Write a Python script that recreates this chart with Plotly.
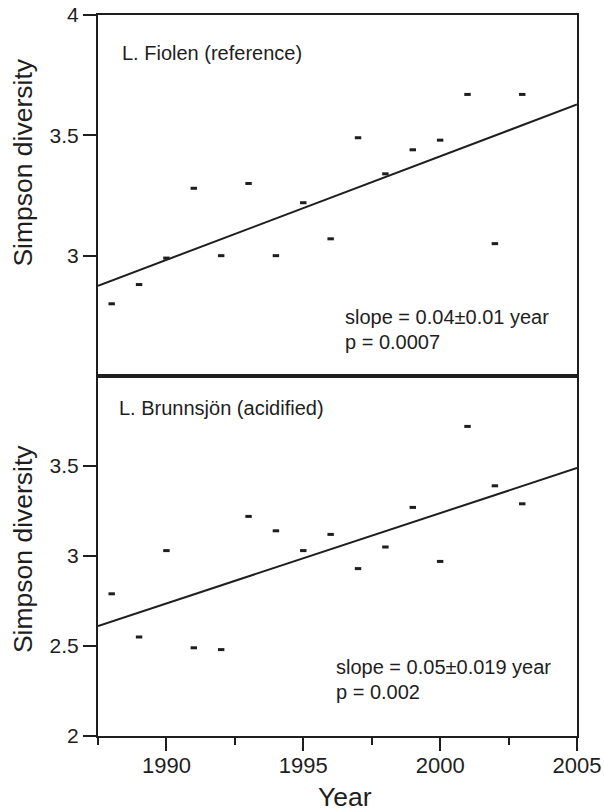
import plotly.graph_objects as go

years = [1988, 1989, 1990, 1991, 1992, 1993, 1994, 1995, 1996, 1997, 1998, 1999, 2000, 2001, 2002, 2003]
fiolen = [2.80, 2.88, 2.99, 3.28, 3.00, 3.30, 3.00, 3.22, 3.07, 3.49, 3.34, 3.44, 3.48, 3.67, 3.05, 3.67]
brunnsjon = [2.79, 2.55, 3.03, 2.49, 2.48, 3.22, 3.14, 3.03, 3.12, 2.93, 3.05, 3.27, 2.97, 3.72, 3.39, 3.29]

fit_x = [1987.5, 2005]
fit_fiolen = [2.875, 3.628]
fit_brunnsjon = [2.611, 3.489]

x_range = [1987.5, 2005]
x_ticks = [1990, 1995, 2000, 2005]
top_range = [2.5, 4]
top_ticks = [3, 3.5, 4]
top_ticktext = ["3", "3.5", "4"]
bot_range = [2, 4]
bot_ticks = [2, 2.5, 3, 3.5]
bot_ticktext = ["2", "2.5", "3", "3.5"]

INK = "#1e1e1e"
FONT = "Arial, Liberation Sans, sans-serif"

fig = go.Figure()

marker = dict(symbol="line-ew", size=4.6, color=INK, line=dict(width=3, color=INK))

fig.add_trace(go.Scatter(x=years, y=fiolen, mode="markers", marker=marker, xaxis="x2", yaxis="y2", showlegend=False))
fig.add_trace(go.Scatter(x=fit_x, y=fit_fiolen, mode="lines", line=dict(color=INK, width=2), xaxis="x2", yaxis="y2", showlegend=False))
fig.add_trace(go.Scatter(x=years, y=brunnsjon, mode="markers", marker=marker, xaxis="x", yaxis="y", showlegend=False))
fig.add_trace(go.Scatter(x=fit_x, y=fit_brunnsjon, mode="lines", line=dict(color=INK, width=2), xaxis="x", yaxis="y", showlegend=False))

axis_common = dict(showline=True, linecolor=INK, linewidth=2, showgrid=False, zeroline=False, automargin=False,
                   ticklabeloverflow="allow", tickcolor=INK, tickwidth=2)
yfont = dict(family=FONT, size=21, color=INK)
xfont = dict(family=FONT, size=22, color=INK)

fig.update_layout(
    width=604, height=811,
    margin=dict(l=98, r=27, t=15, b=75, autoexpand=False),
    paper_bgcolor="white", plot_bgcolor="white",
    xaxis=dict(domain=[0, 1], anchor="y", range=x_range, tickvals=x_ticks, ticks="outside", ticklen=13,
               mirror=True, tickfont=xfont, ticklabelstandoff=-4,
               minor=dict(dtick=2.5, tick0=1987.5, ticks="outside", ticklen=7, tickcolor=INK, tickwidth=2),
               **axis_common),
    yaxis=dict(domain=[0, 0.4993], anchor="x", range=bot_range, tickvals=bot_ticks, ticktext=bot_ticktext,
               ticks="outside", ticklen=13, mirror=True, tickfont=yfont, **axis_common),
    xaxis2=dict(domain=[0, 1], anchor="y2", range=x_range, showticklabels=False, ticks="",
                mirror=True, **axis_common),
    yaxis2=dict(domain=[0.4993, 1], anchor="x2", range=top_range, tickvals=top_ticks, ticktext=top_ticktext,
                ticks="outside", ticklen=13, mirror=True, tickfont=yfont, **axis_common),
)

ann_font = dict(family=FONT, size=20, color=INK)
title_font = dict(family=FONT, size=26.5, color=INK)

annotations = [
    dict(text="L. Fiolen (reference)", xref="x2 domain", yref="y2 domain", x=0.046, y=0.895, xanchor="left", yanchor="middle", font=ann_font),
    dict(text="slope = 0.04±0.01 year", xref="x2 domain", yref="y2 domain", x=0.512, y=0.164, xanchor="left", yanchor="middle", font=ann_font),
    dict(text="p = 0.0007", xref="x2 domain", yref="y2 domain", x=0.512, y=0.095, xanchor="left", yanchor="middle", font=ann_font),
    dict(text="L. Brunnsjön (acidified)", xref="x domain", yref="y domain", x=0.040, y=0.911, xanchor="left", yanchor="middle", font=ann_font),
    dict(text="slope = 0.05±0.019 year", xref="x domain", yref="y domain", x=0.492, y=0.192, xanchor="left", yanchor="middle", font=ann_font),
    dict(text="p = 0.002", xref="x domain", yref="y domain", x=0.492, y=0.123, xanchor="left", yanchor="middle", font=ann_font),
    dict(text="Simpson diversity", xref="paper", yref="paper", x=-0.157, y=0.795, xanchor="center", yanchor="middle", textangle=-90, font=title_font),
    dict(text="Simpson diversity", xref="paper", yref="paper", x=-0.157, y=0.259, xanchor="center", yanchor="middle", textangle=-90, font=title_font),
    dict(text="Year", xref="paper", yref="paper", x=0.515, y=-0.084, xanchor="center", yanchor="middle", font=title_font),
]
for a in annotations:
    a["showarrow"] = False
    fig.add_annotation(**a)

fig.write_html("out.html", config={"displayModeBar": False},
               post_script="document.body.style.margin='0';document.body.style.overflow='hidden';")
